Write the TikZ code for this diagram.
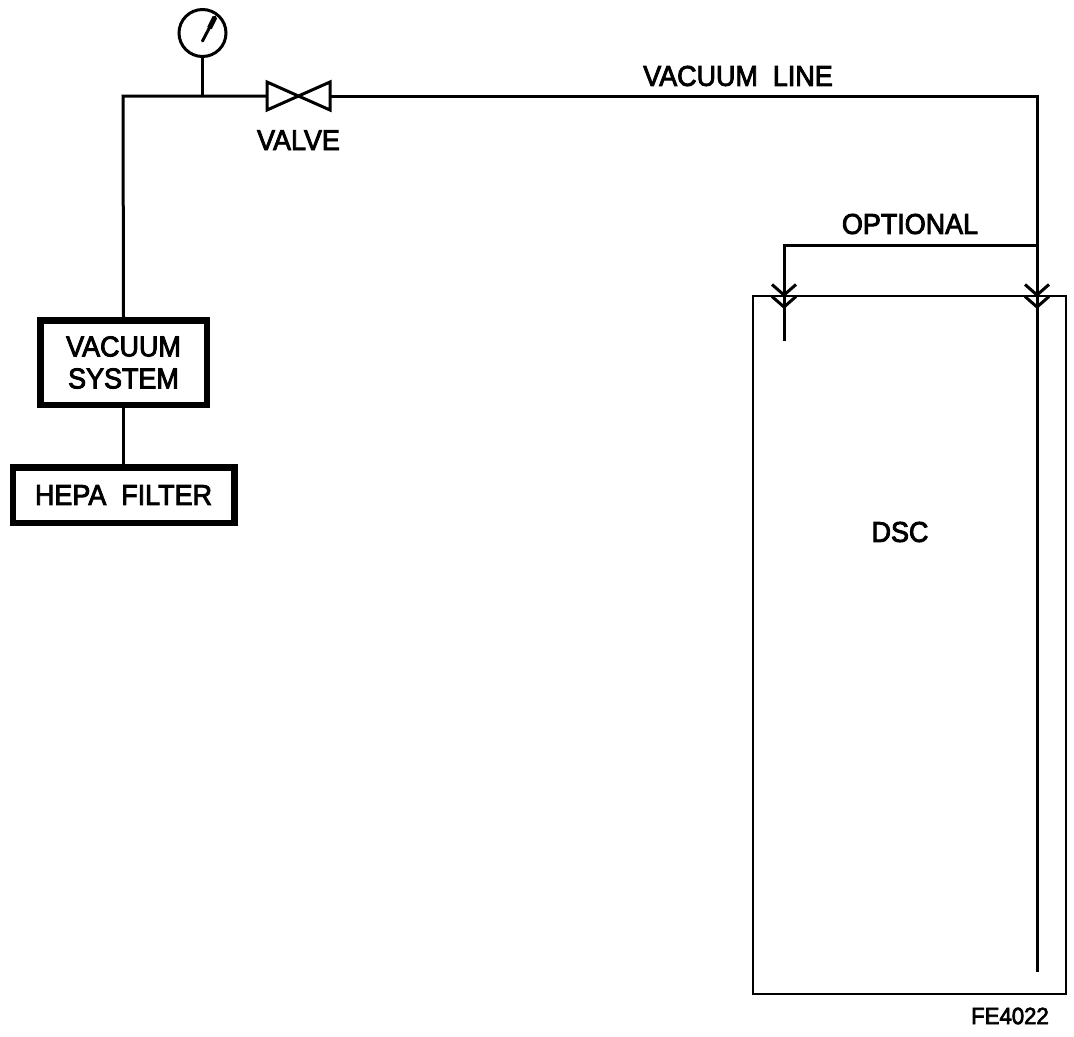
\documentclass[tikz,border=0pt]{standalone}
\usepackage{fontspec}
\setmainfont[FakeStretch=0.94,FakeBold=3]{Liberation Sans}
\usetikzlibrary{positioning,calc}
\tikzset{
  pipe/.style ={draw=black, line width=0.06cm, line join=miter},
  thickbox/.style ={rectangle, draw=black, line width=0.13cm, fill=white, inner sep=0pt, align=center, font=\lblfont},
  lbl/.style ={inner sep=0pt, font=\lblfont},
  smalllbl/.style ={inner sep=0pt, font=\smallfont},
  vessel/.style ={rectangle, draw=black, line width=0.05cm, minimum width=6.26cm, minimum height=13.96cm, inner sep=0pt},
  gaugedial/.style ={circle, draw=black, line width=0.06cm, minimum size=0.94cm, inner sep=0pt},
  valvebody/.style ={rectangle, minimum width=1.26cm, minimum height=0.56cm, inner sep=0pt, outer sep=0pt},
}
\newcommand{\lblfont}{\fontsize{16.3}{18.2}\selectfont}
\newcommand{\smallfont}{\fontsize{13.4}{15}\selectfont}
\begin{document}
\begin{tikzpicture}
\useasboundingbox (0,0) rectangle (21.48,-20.72);
% left side
\node[thickbox, minimum width=3.33cm, minimum height=1.69cm] (vac) at (2.47,-7.25) {VACUUM\\SYSTEM};
\node[thickbox, minimum width=4.43cm, minimum height=1.11cm, below=1.12cm of vac] (hepa) {HEPA\ \ FILTER};
\coordinate (tl) at (2.46,-1.92);
\node[valvebody] (valve) at (5.97,-1.92) {};
\node[lbl, below=0.40cm of valve] (valvelbl) {VALVE};
\node[gaugedial] (gauge) at (4.05,-0.66) {};
% vessel
\node[vessel] (dsc) at (18.19,-12.9) {};
\node[lbl] (dsclbl) at (18,-10.64) {DSC};
\coordinate (tr) at (20.74,-1.92);
\coordinate (branch) at (20.74,-4.9);
\coordinate (bl) at (15.68,-4.9);
\coordinate (stubl) at (15.68,-6.82);
\coordinate (stubr) at (20.74,-19.44);
\node[lbl] (linelbl) at (14.76,-1.52) {VACUUM\ \ LINE};
\node[lbl] (optlbl) at (18.2,-4.48) {OPTIONAL};
\node[smalllbl] (fe) at (20.2,-20.32) {FE4022};
% lines
\draw[pipe] (vac) -- (hepa);
\draw[pipe] (vac.north) -- (tl) -- (valve.west);
\draw[pipe] (valve.east) -- (tr) -- (stubr);
\draw[pipe] (branch) -- (bl) -- (stubl);
\draw[pipe] (gauge.south) -- (gauge |- tl);
\draw[pipe] (valve.south west) -- (valve.north west) -- (valve.south east) -- (valve.north east) -- cycle;
\draw[pipe, line cap=round] ($(gauge.center)+(0,-0.16)$) -- ($(gauge.center)+(0.25,0.32)$);
\draw[black, line width=0.1cm] ($(gauge.center)+(0.14,0.1)$) -- ($(gauge.center)+(0.25,0.32)$);
% double chevrons
\foreach \px in {bl,tr} {
  \foreach \py in {5.9,6.14} {
    \draw[pipe] ($(\px |- 0,-\py)+(-0.24,0.21)$) -- (\px |- 0,-\py) -- ($(\px |- 0,-\py)+(0.24,0.21)$);
  }
}
\end{tikzpicture}
\end{document}
